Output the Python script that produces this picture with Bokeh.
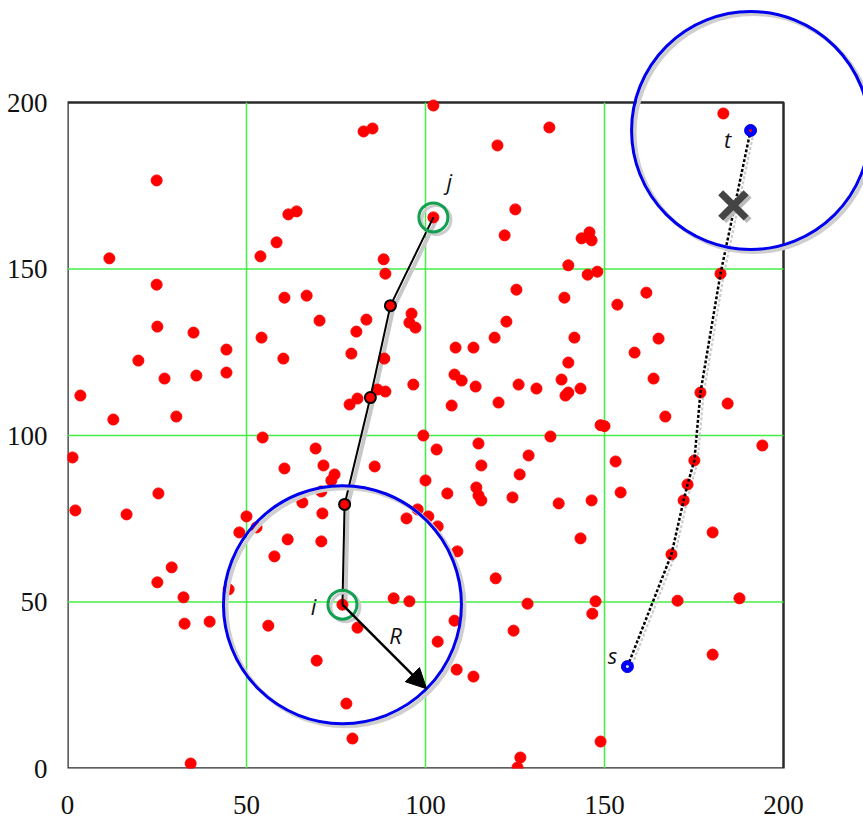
import numpy as np
from bokeh.plotting import figure
from bokeh.models import Range1d, FixedTicker, BoxAnnotation, Label, Arrow, NormalHead
from bokeh.embed import file_html
from bokeh.resources import INLINE

# ---------------- data ----------------
dots_x = [102.2, 183.2, 134.6, 120.1, 82.7, 85.2, 24.9, 102.2, 125.1, 122.1,
          143.6, 145.8, 146.4, 139.9, 145.3, 148.0, 182.4, 125.4, 138.8, 153.6,
          161.7, 122.6, 11.7, 24.9, 61.7, 64.0, 58.4, 53.9, 88.3, 88.8,
          60.6, 66.8, 96.1, 70.4, 83.5, 25.1, 95.5, 97.2, 35.2, 80.7,
          54.2, 44.4, 19.8, 60.3, 79.3, 88.5, 27.1, 36.0, 44.4, 3.6,
          12.8, 30.4, 96.6, 86.6, 88.8, 81.0, 78.8, 54.5, 99.4, 1.4,
          69.3, 60.6, 71.5, 85.8, 74.6, 73.7, 100.0, 25.4, 70.9, 2.2,
          16.5, 50.0, 65.6, 71.2, 94.7, 97.8, 100.8, 52.8, 48.0, 61.5,
          70.9, 108.4, 113.4, 119.3, 141.6, 165.1, 158.4, 139.9, 108.1, 110.1,
          114.0, 126.0, 131.0, 138.0, 143.3, 139.1, 139.9, 163.7, 176.8, 184.4,
          107.3, 120.4, 167.0, 148.9, 150.0, 134.9, 114.8, 103.1, 194.1, 128.8,
          153.1, 175.1, 115.6, 126.3, 173.2, 172.1, 114.2, 114.8, 115.6, 106.1,
          124.3, 137.2, 146.4, 154.5, 180.2, 143.3, 103.4, 57.8, 29.1, 25.1,
          32.4, 45.0, 32.7, 39.7, 76.8, 56.1, 81.0, 91.1, 95.5, 69.6,
          77.9, 79.6, 34.4, 108.9, 119.6, 168.7, 128.5, 147.5, 146.6, 170.4,
          187.7, 108.1, 124.6, 103.4, 180.2, 108.7, 113.4, 148.9, 126.5, 125.7]
dots_y = [199.1, 196.7, 192.5, 187.1, 191.3, 192.2, 176.6, 165.5, 167.9, 160.1,
          159.2, 161.0, 158.6, 151.1, 148.3, 149.2, 148.6, 143.8, 141.4, 139.3,
          142.9, 134.2, 153.2, 145.3, 166.4, 167.3, 158.0, 153.8, 152.9, 148.6,
          141.4, 142.0, 136.6, 134.5, 134.8, 132.7, 133.9, 132.4, 130.9, 131.2,
          129.4, 125.8, 122.5, 123.1, 124.6, 123.1, 117.1, 118.0, 118.9, 112.0,
          104.8, 105.7, 115.3, 113.8, 113.2, 111.1, 109.3, 99.4, 100.0, 93.4,
          96.1, 90.1, 91.0, 90.7, 88.3, 86.5, 86.5, 82.6, 83.2, 77.5,
          76.3, 75.7, 79.9, 76.6, 75.1, 77.8, 75.7, 72.4, 70.9, 68.8,
          68.2, 126.4, 126.4, 129.4, 129.4, 129.1, 124.9, 121.9, 118.3, 116.5,
          114.7, 115.3, 114.1, 116.8, 114.1, 112.0, 112.9, 117.1, 112.9, 109.6,
          109.0, 109.9, 105.7, 103.1, 102.8, 99.7, 97.6, 95.8, 97.0, 94.0,
          92.2, 92.5, 91.0, 88.3, 85.3, 80.5, 84.4, 82.0, 80.5, 82.6,
          81.4, 79.6, 80.5, 82.9, 70.9, 69.1, 72.7, 63.7, 60.4, 55.9,
          51.4, 53.8, 43.5, 44.1, 49.2, 42.9, 42.3, 51.1, 50.2, 32.4,
          19.5, 9.0, 1.5, 65.2, 57.1, 64.3, 49.5, 50.2, 46.5, 50.4,
          51.1, 44.4, 41.4, 38.1, 34.2, 29.7, 27.6, 8.1, 3.3, 0.3]

# route from i to j (solid) and from s to t (dotted)
route_ij_x = [76.8, 77.4, 84.6, 90.2, 102.2]
route_ij_y = [49.2, 79.3, 111.4, 139.0, 165.5]
route_st_x = [156.4, 168.7, 172.1, 173.2, 175.1, 176.8, 182.4, 190.8]
route_st_y = [30.6, 64.3, 80.5, 85.3, 92.5, 112.9, 148.6, 191.6]

point_i = (76.8, 49.2)
point_j = (102.2, 165.5)
point_s = (156.4, 30.6)
point_t = (190.8, 191.6)
blocked_x = [186.0]
blocked_y = [169.1]

tick_values = [0, 50, 100, 150, 200]
grid_values = [50, 100, 150]
AREA = 200.0

# ---------------- layout ----------------
W, H = 863, 820
BL, BB = 67, 52          # frame extends to top/right canvas edges so the
FW, FH = W - BL, H - BB  # range circle can overflow the square area
BOX_PX_X, BOX_PX_Y = 716, 666   # pixel size of the 0..200 square
KX = BOX_PX_X / AREA
KY = BOX_PX_Y / AREA
R_PX = 119               # radius of range circle in px

p = figure(width=W, height=H, output_backend="svg", toolbar_location=None,
           x_range=Range1d(0, FW / KX), y_range=Range1d(0, FH / KY),
           min_border_left=BL, min_border_right=0,
           min_border_top=0, min_border_bottom=BB,
           background_fill_color="white", border_fill_color="white")
p.outline_line_color = None
p.xgrid.visible = False
p.ygrid.visible = False

for ax in (p.xaxis[0], p.yaxis[0]):
    ax.ticker = FixedTicker(ticks=tick_values)
    ax.major_tick_line_color = None
    ax.minor_tick_line_color = None
    ax.axis_line_color = None
    ax.major_label_text_font = "Liberation Serif"
    ax.major_label_text_font_size = "27px"
    ax.major_label_text_color = "#111111"
p.xaxis[0].major_label_standoff = 21
p.yaxis[0].major_label_standoff = 14

# grid lines, limited to the square area
p.segment(x0=grid_values, y0=[0] * len(grid_values), x1=grid_values,
          y1=[AREA] * len(grid_values), line_color="#44ee44", line_width=1.5)
p.segment(x0=[0] * len(grid_values), y0=grid_values, x1=[AREA] * len(grid_values),
          y1=grid_values, line_color="#44ee44", line_width=1.5)

# square area outline
p.add_layout(BoxAnnotation(left=0, right=AREA, bottom=0, top=AREA,
                           fill_alpha=0, line_color="#2a2a2a", line_alpha=1,
                           line_width=2.5, level="underlay"))

sdx, sdy = 3.0 / KX, -2.5 / KY   # shadow offset

# shadows of routes
p.line([x + sdx for x in route_ij_x], [y + sdy for y in route_ij_y],
       line_color="#c8c8c8", line_width=4)
p.line([x + sdx for x in route_st_x], [y + sdy for y in route_st_y],
       line_color="#cccccc", line_width=2.2, line_dash="3 2")

# red dots
p.scatter(dots_x, dots_y, size=11, fill_color="#ff0000", line_color="#ff0000")

# routes
p.line(route_ij_x, route_ij_y, line_color="black", line_width=2)
p.line(route_st_x, route_st_y, line_color="black", line_width=2.5, line_dash="3 2")
p.scatter(route_ij_x[1:-1], route_ij_y[1:-1], size=11, fill_color="#ff0000",
          line_color="black", line_width=2)

# blocked step marker
p.scatter([x + sdx for x in blocked_x], [y + sdy for y in blocked_y], marker="x",
          size=36, line_color="#bbbbbb", line_width=7)
p.scatter(blocked_x, blocked_y, marker="x", size=36, line_color="#444444", line_width=7)

# green circles on i and j
p.scatter([point_i[0] + sdx, point_j[0] + sdx], [point_i[1] + sdy, point_j[1] + sdy],
          size=29, fill_color=None, line_color="#cccccc", line_width=3)
p.scatter([point_i[0], point_j[0]], [point_i[1], point_j[1]], size=29,
          fill_color=None, line_color="#13a050", line_width=3)

# s and t
p.scatter([point_s[0], point_t[0]], [point_s[1], point_t[1]], size=12,
          fill_color="#0000ff", line_color="#0000dd")
p.scatter([point_t[0]], [point_t[1]], size=3, fill_color="#ff0000", line_color=None)
p.scatter([point_s[0]], [point_s[1]], size=3, fill_color="#dddddd", line_color=None)

# range circles (round on screen) around i and t
cxs = [point_i[0], point_t[0]]
cys = [point_i[1], point_t[1]]
p.scatter([x + sdx for x in cxs], [y + sdy for y in cys], size=2 * R_PX,
          fill_color=None, line_color="#cfcfcf", line_width=4)
p.scatter(cxs, cys, size=2 * R_PX, fill_color=None, line_color="#0000ee", line_width=3)

# radius arrow
ang = -np.pi / 4
p.add_layout(Arrow(end=NormalHead(size=20, fill_color="black", line_color="black"),
                   x_start=point_i[0], y_start=point_i[1],
                   x_end=point_i[0] + R_PX * np.cos(ang) / KX,
                   y_end=point_i[1] + R_PX * np.sin(ang) / KY,
                   line_color="black", line_width=2.5))

def lab(txt, pt, dx, dy):
    p.add_layout(Label(x=pt[0], y=pt[1], x_offset=dx, y_offset=dy, text=txt,
                       text_font="Open Sans", text_font_style="italic",
                       text_font_size="22px", text_color="#111111",
                       text_align="center", text_baseline="middle"))

lab("i", point_i, -29, -1)
lab("j", point_j, 16, 36)
lab("s", point_s, -15, 12)
lab("t", point_t, -23, -9)
lab("R", point_i, 53, -30)

open("out.html", "w").write(file_html(p, INLINE))
